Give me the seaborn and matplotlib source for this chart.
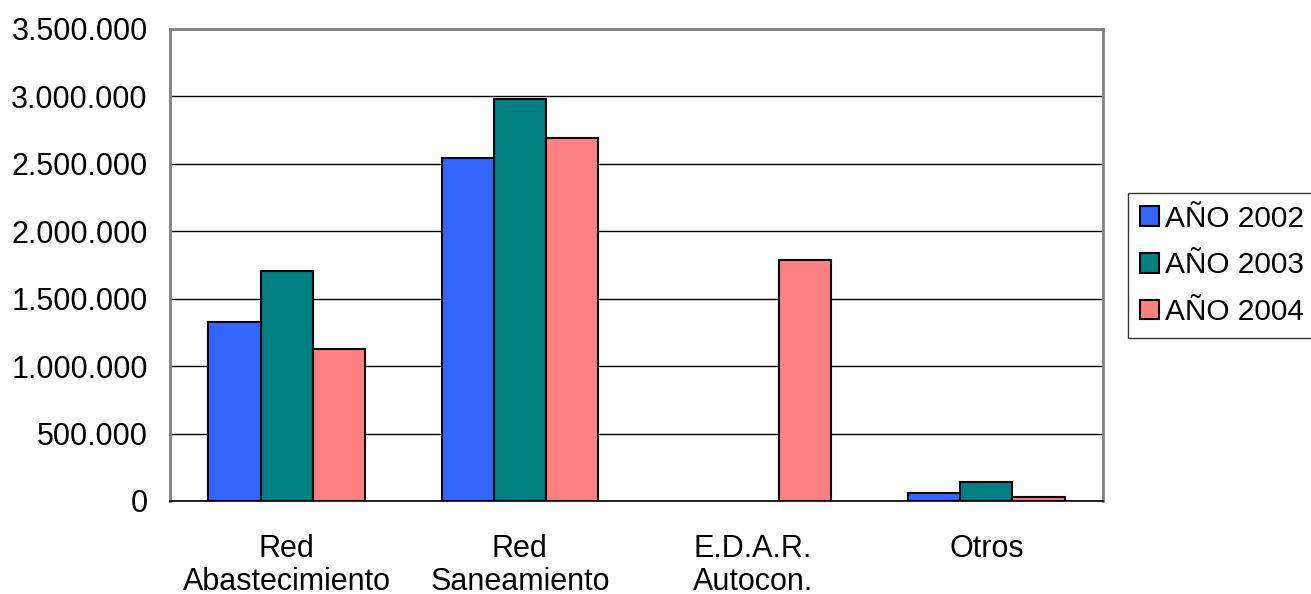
import numpy as np
import pandas as pd
import matplotlib
matplotlib.use("Agg")
import matplotlib.pyplot as plt
import seaborn as sns
from matplotlib.ticker import FuncFormatter, FixedLocator

categories = ["Red\nAbastecimiento", "Red\nSaneamiento", "E.D.A.R.\nAutocon.", "Otros"]
years = ["AÑO 2002", "AÑO 2003", "AÑO 2004"]
v2002 = [1328000, 2545000, np.nan, 60000]
v2003 = [1706000, 2982000, np.nan, 139000]
v2004 = [1128000, 2693000, 1788000, 30000]
colors = ["#3366FF", "#008080", "#FF8080"]

df = pd.DataFrame({
    "categoria": categories * 3,
    "anio": [years[0]] * 4 + [years[1]] * 4 + [years[2]] * 4,
    "valor": v2002 + v2003 + v2004,
})

sns.set_style("white")
plt.rcParams["font.family"] = ["Liberation Sans", "DejaVu Sans"]
plt.rcParams["text.color"] = "black"
plt.rcParams["xtick.color"] = "black"
plt.rcParams["ytick.color"] = "black"

fig = plt.figure(figsize=(13.11, 5.94), dpi=100)
ax = fig.add_axes([170 / 1311, 1 - 501 / 594, (1103 - 170) / 1311, (501 - 29) / 594])

sns.barplot(data=df, x="categoria", y="valor", hue="anio", hue_order=years,
            order=categories, palette=colors, saturation=1, width=0.67,
            edgecolor="black", linewidth=1.5, errorbar=None, ax=ax, zorder=3)

# grid and frame
ax.set_ylim(0, 3500000)
ax.set_xlim(-0.5, 3.5)
ax.set_yticks(np.arange(0, 3500001, 500000))
ax.yaxis.set_major_formatter(FuncFormatter(lambda v, p: f"{int(v):,}".replace(",", ".")))
ax.grid(axis="y", color="black", linewidth=1, zorder=0)
ax.set_axisbelow(True)
for side in ["top", "right", "left"]:
    ax.spines[side].set_color("#808080")
    ax.spines[side].set_linewidth(2)
ax.spines["bottom"].set_color("black")
ax.spines["bottom"].set_linewidth(1.2)

# x ticks between categories, labels at centers
ax.xaxis.set_minor_locator(FixedLocator(np.arange(-0.5, 4, 1)))
ax.tick_params(axis="x", which="major", length=0, pad=24, labelsize=22)
ax.tick_params(axis="x", which="minor", length=9, width=1, color="black", direction="out")
ax.tick_params(axis="y", length=9, width=1, color="black", direction="out", labelsize=22, pad=7)
ax.set_xlabel("")
ax.set_ylabel("")
for lbl in ax.get_xticklabels():
    lbl.set_linespacing(1.1)

leg = ax.legend(loc="upper left", bbox_to_anchor=(1128 / 1311, 1 - 193 / 594),
                bbox_transform=fig.transFigure, frameon=True, fancybox=False,
                fontsize=21.5, handlelength=0.65, handleheight=0.65, handletextpad=0.2,
                borderpad=0.4, labelspacing=0.62, borderaxespad=0)
leg.get_frame().set_edgecolor("black")
leg.get_frame().set_linewidth(1)

fig.savefig("out.png", dpi=100)
